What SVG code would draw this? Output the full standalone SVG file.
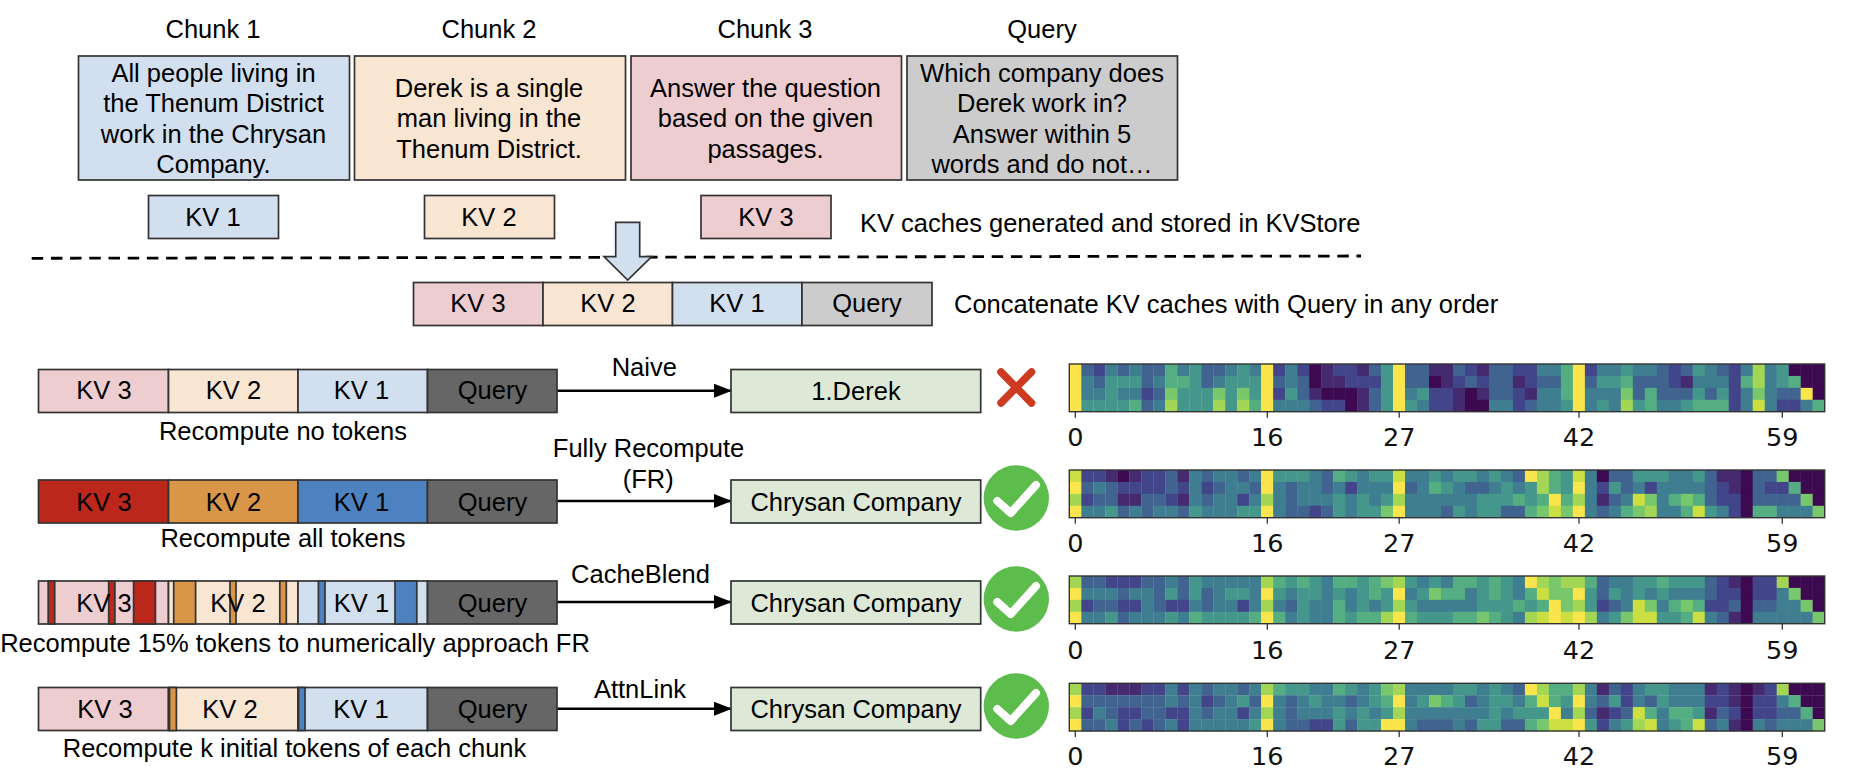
<svg xmlns="http://www.w3.org/2000/svg" width="1874" height="778" viewBox="0 0 1874 778">
<style>
text{font-family:"Liberation Sans",Arial,sans-serif;font-size:25.5px;fill:#000;text-anchor:middle}
.l{text-anchor:start}
.t{font-family:"DejaVu Sans",sans-serif;font-size:25.5px;fill:#111}
.b{stroke:#333;stroke-width:1.7}
.pk{fill:#eecdd0}.pc{fill:#f8e5d2}.bl{fill:#d2dfef}.gy{fill:#ccc}.dg{fill:#666}.gn{fill:#dde9d6}.rd{fill:#bb271a}.or{fill:#d99649}.bu{fill:#4e81bf}
.c{stroke:#000;stroke-width:2.6;fill:none}
.ax{fill:none;stroke:#333;stroke-width:1.4}
.tk{stroke:#333;stroke-width:1.3}
.ok{fill:#5cbd4d}
.ck{fill:none;stroke:#fff;stroke-width:8;stroke-linecap:round;stroke-linejoin:round}
.h rect{width:1.02px;height:1.02px}
.a{fill:#3d0a52}.b0{fill:#452a70}.c0{fill:#42458a}.d{fill:#40648f}.e{fill:#3f7e90}.f{fill:#45978c}.g{fill:#55ad82}.h0{fill:#79c76c}.i{fill:#a3d655}.j{fill:#cbdf42}.k{fill:#fae54c}
</style>
<defs>
<marker id="ah" markerUnits="userSpaceOnUse" markerWidth="18" markerHeight="14" refX="17" refY="7" orient="auto"><path d="M0 0L18 7L0 14z" fill="#000"/></marker>
</defs>
<g id="titles">
<text x="213" y="38">Chunk 1</text><text x="489" y="38">Chunk 2</text><text x="765" y="38">Chunk 3</text><text x="1042" y="38">Query</text>
</g>
<g id="chunk1"><rect class="b bl" x="78.5" y="56" width="271" height="124"/><text x="213.500" y="82">All people living in</text><text x="213.500" y="112">the Thenum District</text><text x="213.500" y="143">work in the Chrysan</text><text x="213.500" y="173">Company.</text></g>
<g id="chunk2"><rect class="b pc" x="354.500" y="56" width="271" height="124"/><text x="489" y="97">Derek is a single</text><text x="489" y="127">man living in the</text><text x="489" y="157.500">Thenum District.</text></g>
<g id="chunk3"><rect class="b pk" x="631" y="56" width="270.500" height="124"/><text x="765.500" y="97">Answer the question</text><text x="765.500" y="127">based on the given</text><text x="765.500" y="157.500">passages.</text></g>
<g id="query"><rect class="b gy" x="907" y="56" width="270.500" height="124"/><text x="1042" y="82">Which company does</text><text x="1042" y="112">Derek work in?</text><text x="1042" y="143">Answer within 5</text><text x="1042" y="173">words and do not…</text></g>
<g id="kv1"><rect class="b bl" x="148.500" y="195.500" width="130" height="43"/><text x="213" y="226">KV 1</text></g>
<g id="kv2"><rect class="b pc" x="424.500" y="195.500" width="130" height="43"/><text x="489" y="226">KV 2</text></g>
<g id="kv3"><rect class="b pk" x="701" y="195.500" width="130" height="43"/><text x="766" y="226">KV 3</text></g>
<text class="l" x="860" y="232">KV caches generated and stored in KVStore</text>
<path d="M31.700 258.300L1361 256" stroke="#000" stroke-width="2.8" stroke-dasharray="11.500 7.700" fill="none"/>
<g id="concat">
<rect class="b pk" x="413.500" y="282.500" width="129.500" height="43"/><rect class="b pc" x="543" y="282.500" width="129.500" height="43"/><rect class="b bl" x="672.500" y="282.500" width="129.500" height="43"/><rect class="b gy" x="802" y="282.500" width="130" height="43"/>
<text x="478" y="312">KV 3</text><text x="608" y="312">KV 2</text><text x="737" y="312">KV 1</text><text x="867" y="312">Query</text>
</g>
<path id="downarrow" class="b bl" d="M615.700 222.300H639.700V256.700H651.700L627.700 280L604 256.700H615.700z"/>
<text class="l" x="954" y="313">Concatenate KV caches with Query in any order</text>
<g id="connectors">
<path class="c" marker-end="url(#ah)" d="M557 390.700H731"/>
<path class="c" marker-end="url(#ah)" d="M557 501H731"/>
<path class="c" marker-end="url(#ah)" d="M557 602H731"/>
<path class="c" marker-end="url(#ah)" d="M557 708.700H731"/>
</g>
<g id="row1">
<rect class="b pk" x="38.500" y="369.500" width="130" height="43"/><rect class="b pc" x="168.500" y="369.500" width="129.500" height="43"/><rect class="b bl" x="298" y="369.500" width="129.500" height="43"/><rect class="b dg" x="427.500" y="369.500" width="129.500" height="43"/>
<text x="104" y="399">KV 3</text><text x="233.500" y="399">KV 2</text><text x="361.500" y="399">KV 1</text><text x="492.500" y="399">Query</text>
<text x="283" y="440">Recompute no tokens</text>
</g>
<g id="row2">
<rect class="b rd" x="38.500" y="480" width="130" height="43"/><rect class="b or" x="168.500" y="480" width="129.500" height="43"/><rect class="b bu" x="298" y="480" width="129.500" height="43"/><rect class="b dg" x="427.500" y="480" width="129.500" height="43"/>
<text x="104" y="511">KV 3</text><text x="233.500" y="511">KV 2</text><text x="361.500" y="511">KV 1</text><text x="492.500" y="511">Query</text>
<text x="283" y="547">Recompute all tokens</text>
</g>
<g id="row3">
<rect class="b pk" x="38.500" y="581" width="130" height="43"/><rect class="b pc" x="168.500" y="581" width="129.500" height="43"/><rect class="b bl" x="298" y="581" width="129.500" height="43"/><rect class="b dg" x="427.500" y="581" width="129.500" height="43"/>
<rect class="b rd" x="48.200" y="581" width="6.500" height="43"/><rect class="b rd" x="108.700" y="581" width="6.200" height="43"/><rect class="b rd" x="133.600" y="581" width="21.800" height="43"/>
<rect class="b or" x="173.700" y="581" width="21.900" height="43"/><rect class="b or" x="230" y="581" width="6" height="43"/><rect class="b or" x="279.800" y="581" width="6.500" height="43"/>
<rect class="b bu" x="318.400" y="581" width="6.600" height="43"/><rect class="b bu" x="395" y="581" width="21.800" height="43"/>
<text x="104" y="611.500">KV 3</text><text x="238" y="611.500">KV 2</text><text x="361.500" y="611.500">KV 1</text><text x="492.500" y="611.500">Query</text>
<text x="295" y="652">Recompute 15% tokens to numerically approach FR</text>
</g>
<g id="row4">
<rect class="b pk" x="38.500" y="687.500" width="130" height="43"/><rect class="b pc" x="168.500" y="687.500" width="129.500" height="43"/><rect class="b bl" x="298" y="687.500" width="129.500" height="43"/><rect class="b dg" x="427.500" y="687.500" width="129.500" height="43"/>
<rect class="b or" x="169.500" y="687.500" width="6.900" height="43"/><rect class="b bu" x="298.500" y="687.500" width="6.500" height="43"/>
<text x="105" y="718">KV 3</text><text x="230" y="718">KV 2</text><text x="361" y="718">KV 1</text><text x="492.500" y="718">Query</text>
<text x="294.500" y="757">Recompute k initial tokens of each chunk</text>
</g>
<g id="labels">
<text x="644.300" y="376">Naive</text><text x="648.500" y="457">Fully Recompute</text><text x="648.300" y="488">(FR)</text><text x="640.500" y="583">CacheBlend</text><text x="640" y="698">AttnLink</text>
</g>
<g id="res1"><rect class="b gn" x="731" y="369.500" width="249.700" height="43"/><text x="856" y="400">1.Derek</text></g>
<g id="res2"><rect class="b gn" x="731" y="480" width="249.700" height="43"/><text x="856" y="511">Chrysan Company</text></g>
<g id="res3"><rect class="b gn" x="731" y="581" width="249.700" height="43"/><text x="856" y="611.500">Chrysan Company</text></g>
<g id="res4"><rect class="b gn" x="731" y="687.500" width="249.700" height="43"/><text x="856" y="718">Chrysan Company</text></g>
<path id="cross" d="M1001 372L1031.500 403M1031.500 372L1001 403" stroke="#cc3b1f" stroke-width="7.500" stroke-linecap="round" fill="none"/>
<g id="ok2"><circle class="ok" cx="1016.300" cy="498" r="32.700"/><path class="ck" d="M997.300 501L1010.700 513L1036 485"/></g>
<g id="ok3"><circle class="ok" cx="1016.300" cy="599" r="32.700"/><path class="ck" d="M997.300 602L1010.700 614L1036 586"/></g>
<g id="ok4"><circle class="ok" cx="1016.300" cy="706" r="32.700"/><path class="ck" d="M997.300 709L1010.700 721L1036 693"/></g>
<g id="heat1"><g class="h" transform="translate(1069.300 364) scale(11.990 11.930)">
<g><rect x="0" class="k"/><rect x="1" class="d"/><rect x="2" class="c0"/><rect x="3" class="e"/><rect x="4" class="d"/><rect x="5" class="e"/><rect x="6" class="d"/><rect x="7" class="d"/><rect x="8" class="g"/><rect x="9" class="e"/><rect x="10" class="f"/><rect x="11" class="d"/><rect x="12" class="d"/><rect x="13" class="e"/><rect x="14" class="f"/><rect x="15" class="e"/><rect x="16" class="k"/><rect x="17" class="c0"/><rect x="18" class="e"/><rect x="19" class="c0"/><rect x="20" class="a"/><rect x="21" class="b0"/><rect x="22" class="c0"/><rect x="23" class="c0"/><rect x="24" class="b0"/><rect x="25" class="d"/><rect x="26" class="f"/><rect x="27" class="k"/><rect x="28" class="d"/><rect x="29" class="d"/><rect x="30" class="b0"/><rect x="31" class="b0"/><rect x="32" class="d"/><rect x="33" class="c0"/><rect x="34" class="b0"/><rect x="35" class="d"/><rect x="36" class="d"/><rect x="37" class="c0"/><rect x="38" class="c0"/><rect x="39" class="e"/><rect x="40" class="e"/><rect x="41" class="g"/><rect x="42" class="k"/><rect x="43" class="c0"/><rect x="44" class="e"/><rect x="45" class="e"/><rect x="46" class="f"/><rect x="47" class="e"/><rect x="48" class="e"/><rect x="49" class="d"/><rect x="50" class="c0"/><rect x="51" class="d"/><rect x="52" class="f"/><rect x="53" class="e"/><rect x="54" class="d"/><rect x="55" class="c0"/><rect x="56" class="e"/><rect x="57" class="i"/><rect x="58" class="e"/><rect x="59" class="f"/><rect x="60" class="a"/><rect x="61" class="a"/><rect x="62" class="a"/></g>
<g transform="translate(0 1)"><rect x="0" class="k"/><rect x="1" class="e"/><rect x="2" class="d"/><rect x="3" class="f"/><rect x="4" class="f"/><rect x="5" class="f"/><rect x="6" class="d"/><rect x="7" class="e"/><rect x="8" class="g"/><rect x="9" class="g"/><rect x="10" class="f"/><rect x="11" class="d"/><rect x="12" class="e"/><rect x="13" class="f"/><rect x="14" class="f"/><rect x="15" class="f"/><rect x="16" class="k"/><rect x="17" class="d"/><rect x="18" class="e"/><rect x="19" class="d"/><rect x="20" class="a"/><rect x="21" class="b0"/><rect x="22" class="b0"/><rect x="23" class="c0"/><rect x="24" class="c0"/><rect x="25" class="c0"/><rect x="26" class="f"/><rect x="27" class="k"/><rect x="28" class="d"/><rect x="29" class="d"/><rect x="30" class="a"/><rect x="31" class="b0"/><rect x="32" class="c0"/><rect x="33" class="d"/><rect x="34" class="c0"/><rect x="35" class="d"/><rect x="36" class="d"/><rect x="37" class="b0"/><rect x="38" class="c0"/><rect x="39" class="d"/><rect x="40" class="d"/><rect x="41" class="g"/><rect x="42" class="k"/><rect x="43" class="d"/><rect x="44" class="f"/><rect x="45" class="f"/><rect x="46" class="g"/><rect x="47" class="d"/><rect x="48" class="d"/><rect x="49" class="d"/><rect x="50" class="c0"/><rect x="51" class="b0"/><rect x="52" class="e"/><rect x="53" class="e"/><rect x="54" class="e"/><rect x="55" class="c0"/><rect x="56" class="g"/><rect x="57" class="i"/><rect x="58" class="e"/><rect x="59" class="f"/><rect x="60" class="g"/><rect x="61" class="a"/><rect x="62" class="a"/></g>
<g transform="translate(0 2)"><rect x="0" class="k"/><rect x="1" class="e"/><rect x="2" class="e"/><rect x="3" class="f"/><rect x="4" class="e"/><rect x="5" class="e"/><rect x="6" class="c0"/><rect x="7" class="d"/><rect x="8" class="h0"/><rect x="9" class="f"/><rect x="10" class="f"/><rect x="11" class="f"/><rect x="12" class="h0"/><rect x="13" class="f"/><rect x="14" class="h0"/><rect x="15" class="f"/><rect x="16" class="k"/><rect x="17" class="c0"/><rect x="18" class="f"/><rect x="19" class="d"/><rect x="20" class="b0"/><rect x="21" class="a"/><rect x="22" class="a"/><rect x="23" class="a"/><rect x="24" class="b0"/><rect x="25" class="d"/><rect x="26" class="f"/><rect x="27" class="k"/><rect x="28" class="e"/><rect x="29" class="f"/><rect x="30" class="c0"/><rect x="31" class="c0"/><rect x="32" class="b0"/><rect x="33" class="a"/><rect x="34" class="b0"/><rect x="35" class="d"/><rect x="36" class="d"/><rect x="37" class="c0"/><rect x="38" class="b0"/><rect x="39" class="e"/><rect x="40" class="e"/><rect x="41" class="g"/><rect x="42" class="k"/><rect x="43" class="e"/><rect x="44" class="e"/><rect x="45" class="e"/><rect x="46" class="h0"/><rect x="47" class="d"/><rect x="48" class="g"/><rect x="49" class="d"/><rect x="50" class="d"/><rect x="51" class="d"/><rect x="52" class="f"/><rect x="53" class="d"/><rect x="54" class="f"/><rect x="55" class="c0"/><rect x="56" class="e"/><rect x="57" class="h0"/><rect x="58" class="e"/><rect x="59" class="d"/><rect x="60" class="d"/><rect x="61" class="k"/><rect x="62" class="a"/></g>
<g transform="translate(0 3)"><rect x="0" class="k"/><rect x="1" class="f"/><rect x="2" class="f"/><rect x="3" class="f"/><rect x="4" class="f"/><rect x="5" class="g"/><rect x="6" class="d"/><rect x="7" class="e"/><rect x="8" class="i"/><rect x="9" class="f"/><rect x="10" class="f"/><rect x="11" class="f"/><rect x="12" class="i"/><rect x="13" class="f"/><rect x="14" class="i"/><rect x="15" class="g"/><rect x="16" class="k"/><rect x="17" class="e"/><rect x="18" class="e"/><rect x="19" class="e"/><rect x="20" class="d"/><rect x="21" class="c0"/><rect x="22" class="c0"/><rect x="23" class="a"/><rect x="24" class="b0"/><rect x="25" class="d"/><rect x="26" class="f"/><rect x="27" class="k"/><rect x="28" class="f"/><rect x="29" class="e"/><rect x="30" class="c0"/><rect x="31" class="c0"/><rect x="32" class="b0"/><rect x="33" class="a"/><rect x="34" class="a"/><rect x="35" class="e"/><rect x="36" class="e"/><rect x="37" class="c0"/><rect x="38" class="d"/><rect x="39" class="e"/><rect x="40" class="e"/><rect x="41" class="f"/><rect x="42" class="k"/><rect x="43" class="e"/><rect x="44" class="f"/><rect x="45" class="e"/><rect x="46" class="i"/><rect x="47" class="f"/><rect x="48" class="g"/><rect x="49" class="e"/><rect x="50" class="e"/><rect x="51" class="f"/><rect x="52" class="g"/><rect x="53" class="g"/><rect x="54" class="g"/><rect x="55" class="c0"/><rect x="56" class="e"/><rect x="57" class="j"/><rect x="58" class="e"/><rect x="59" class="c0"/><rect x="60" class="c0"/><rect x="61" class="e"/><rect x="62" class="g"/></g>
</g><rect class="ax" x="1069.300" y="364" width="755.400" height="47.700"/><path class="tk" d="M1075.300 411.700v6M1267.300 411.700v6M1399.200 411.700v6M1579 411.700v6M1782.300 411.700v6"/><text class="t" x="1075.300" y="446">0</text><text class="t" x="1267.300" y="446">16</text><text class="t" x="1399.200" y="446">27</text><text class="t" x="1579" y="446">42</text><text class="t" x="1782.300" y="446">59</text></g>
<g id="heat2"><g class="h" transform="translate(1069.300 470) scale(11.990 11.930)">
<g><rect x="0" class="j"/><rect x="1" class="c0"/><rect x="2" class="c0"/><rect x="3" class="b0"/><rect x="4" class="a"/><rect x="5" class="b0"/><rect x="6" class="c0"/><rect x="7" class="c0"/><rect x="8" class="d"/><rect x="9" class="b0"/><rect x="10" class="e"/><rect x="11" class="d"/><rect x="12" class="e"/><rect x="13" class="e"/><rect x="14" class="d"/><rect x="15" class="e"/><rect x="16" class="k"/><rect x="17" class="f"/><rect x="18" class="f"/><rect x="19" class="f"/><rect x="20" class="e"/><rect x="21" class="d"/><rect x="22" class="g"/><rect x="23" class="f"/><rect x="24" class="e"/><rect x="25" class="f"/><rect x="26" class="f"/><rect x="27" class="j"/><rect x="28" class="e"/><rect x="29" class="e"/><rect x="30" class="f"/><rect x="31" class="e"/><rect x="32" class="f"/><rect x="33" class="f"/><rect x="34" class="e"/><rect x="35" class="f"/><rect x="36" class="e"/><rect x="37" class="d"/><rect x="38" class="k"/><rect x="39" class="i"/><rect x="40" class="g"/><rect x="41" class="f"/><rect x="42" class="j"/><rect x="43" class="e"/><rect x="44" class="a"/><rect x="45" class="d"/><rect x="46" class="d"/><rect x="47" class="f"/><rect x="48" class="f"/><rect x="49" class="f"/><rect x="50" class="e"/><rect x="51" class="e"/><rect x="52" class="f"/><rect x="53" class="d"/><rect x="54" class="b0"/><rect x="55" class="b0"/><rect x="56" class="a"/><rect x="57" class="d"/><rect x="58" class="d"/><rect x="59" class="h0"/><rect x="60" class="a"/><rect x="61" class="a"/><rect x="62" class="a"/></g>
<g transform="translate(0 1)"><rect x="0" class="k"/><rect x="1" class="d"/><rect x="2" class="e"/><rect x="3" class="d"/><rect x="4" class="c0"/><rect x="5" class="c0"/><rect x="6" class="c0"/><rect x="7" class="c0"/><rect x="8" class="d"/><rect x="9" class="c0"/><rect x="10" class="e"/><rect x="11" class="c0"/><rect x="12" class="d"/><rect x="13" class="e"/><rect x="14" class="e"/><rect x="15" class="d"/><rect x="16" class="k"/><rect x="17" class="e"/><rect x="18" class="d"/><rect x="19" class="e"/><rect x="20" class="e"/><rect x="21" class="d"/><rect x="22" class="e"/><rect x="23" class="c0"/><rect x="24" class="e"/><rect x="25" class="e"/><rect x="26" class="e"/><rect x="27" class="k"/><rect x="28" class="d"/><rect x="29" class="e"/><rect x="30" class="g"/><rect x="31" class="f"/><rect x="32" class="e"/><rect x="33" class="d"/><rect x="34" class="d"/><rect x="35" class="e"/><rect x="36" class="f"/><rect x="37" class="e"/><rect x="38" class="f"/><rect x="39" class="i"/><rect x="40" class="g"/><rect x="41" class="f"/><rect x="42" class="k"/><rect x="43" class="e"/><rect x="44" class="c0"/><rect x="45" class="f"/><rect x="46" class="d"/><rect x="47" class="e"/><rect x="48" class="c0"/><rect x="49" class="e"/><rect x="50" class="e"/><rect x="51" class="e"/><rect x="52" class="e"/><rect x="53" class="d"/><rect x="54" class="c0"/><rect x="55" class="b0"/><rect x="56" class="a"/><rect x="57" class="d"/><rect x="58" class="c0"/><rect x="59" class="c0"/><rect x="60" class="g"/><rect x="61" class="a"/><rect x="62" class="a"/></g>
<g transform="translate(0 2)"><rect x="0" class="i"/><rect x="1" class="c0"/><rect x="2" class="d"/><rect x="3" class="d"/><rect x="4" class="b0"/><rect x="5" class="b0"/><rect x="6" class="d"/><rect x="7" class="d"/><rect x="8" class="c0"/><rect x="9" class="b0"/><rect x="10" class="e"/><rect x="11" class="d"/><rect x="12" class="e"/><rect x="13" class="e"/><rect x="14" class="c0"/><rect x="15" class="e"/><rect x="16" class="i"/><rect x="17" class="e"/><rect x="18" class="d"/><rect x="19" class="e"/><rect x="20" class="e"/><rect x="21" class="e"/><rect x="22" class="f"/><rect x="23" class="e"/><rect x="24" class="f"/><rect x="25" class="e"/><rect x="26" class="f"/><rect x="27" class="i"/><rect x="28" class="e"/><rect x="29" class="e"/><rect x="30" class="e"/><rect x="31" class="e"/><rect x="32" class="e"/><rect x="33" class="e"/><rect x="34" class="f"/><rect x="35" class="f"/><rect x="36" class="f"/><rect x="37" class="g"/><rect x="38" class="f"/><rect x="39" class="g"/><rect x="40" class="k"/><rect x="41" class="g"/><rect x="42" class="i"/><rect x="43" class="e"/><rect x="44" class="b0"/><rect x="45" class="d"/><rect x="46" class="e"/><rect x="47" class="j"/><rect x="48" class="h0"/><rect x="49" class="e"/><rect x="50" class="g"/><rect x="51" class="h0"/><rect x="52" class="g"/><rect x="53" class="d"/><rect x="54" class="c0"/><rect x="55" class="c0"/><rect x="56" class="a"/><rect x="57" class="d"/><rect x="58" class="d"/><rect x="59" class="d"/><rect x="60" class="d"/><rect x="61" class="h0"/><rect x="62" class="a"/></g>
<g transform="translate(0 3)"><rect x="0" class="k"/><rect x="1" class="e"/><rect x="2" class="e"/><rect x="3" class="f"/><rect x="4" class="d"/><rect x="5" class="e"/><rect x="6" class="d"/><rect x="7" class="e"/><rect x="8" class="e"/><rect x="9" class="d"/><rect x="10" class="f"/><rect x="11" class="e"/><rect x="12" class="e"/><rect x="13" class="e"/><rect x="14" class="f"/><rect x="15" class="f"/><rect x="16" class="k"/><rect x="17" class="e"/><rect x="18" class="d"/><rect x="19" class="d"/><rect x="20" class="c0"/><rect x="21" class="d"/><rect x="22" class="f"/><rect x="23" class="e"/><rect x="24" class="f"/><rect x="25" class="f"/><rect x="26" class="h0"/><rect x="27" class="k"/><rect x="28" class="e"/><rect x="29" class="e"/><rect x="30" class="e"/><rect x="31" class="d"/><rect x="32" class="f"/><rect x="33" class="e"/><rect x="34" class="f"/><rect x="35" class="f"/><rect x="36" class="d"/><rect x="37" class="d"/><rect x="38" class="g"/><rect x="39" class="h0"/><rect x="40" class="j"/><rect x="41" class="h0"/><rect x="42" class="k"/><rect x="43" class="e"/><rect x="44" class="d"/><rect x="45" class="e"/><rect x="46" class="g"/><rect x="47" class="h0"/><rect x="48" class="i"/><rect x="49" class="e"/><rect x="50" class="e"/><rect x="51" class="g"/><rect x="52" class="j"/><rect x="53" class="f"/><rect x="54" class="e"/><rect x="55" class="c0"/><rect x="56" class="a"/><rect x="57" class="g"/><rect x="58" class="g"/><rect x="59" class="e"/><rect x="60" class="e"/><rect x="61" class="e"/><rect x="62" class="h0"/></g>
</g><rect class="ax" x="1069.300" y="470" width="755.400" height="47.700"/><path class="tk" d="M1075.300 517.700v6M1267.300 517.700v6M1399.200 517.700v6M1579 517.700v6M1782.300 517.700v6"/><text class="t" x="1075.300" y="552.300">0</text><text class="t" x="1267.300" y="552.300">16</text><text class="t" x="1399.200" y="552.300">27</text><text class="t" x="1579" y="552.300">42</text><text class="t" x="1782.300" y="552.300">59</text></g>
<g id="heat3"><g class="h" transform="translate(1069.300 576) scale(11.990 11.930)">
<g><rect x="0" class="i"/><rect x="1" class="d"/><rect x="2" class="d"/><rect x="3" class="c0"/><rect x="4" class="c0"/><rect x="5" class="c0"/><rect x="6" class="d"/><rect x="7" class="d"/><rect x="8" class="e"/><rect x="9" class="d"/><rect x="10" class="f"/><rect x="11" class="e"/><rect x="12" class="e"/><rect x="13" class="e"/><rect x="14" class="e"/><rect x="15" class="e"/><rect x="16" class="i"/><rect x="17" class="g"/><rect x="18" class="f"/><rect x="19" class="g"/><rect x="20" class="f"/><rect x="21" class="e"/><rect x="22" class="g"/><rect x="23" class="g"/><rect x="24" class="f"/><rect x="25" class="g"/><rect x="26" class="h0"/><rect x="27" class="i"/><rect x="28" class="f"/><rect x="29" class="e"/><rect x="30" class="f"/><rect x="31" class="e"/><rect x="32" class="g"/><rect x="33" class="g"/><rect x="34" class="f"/><rect x="35" class="g"/><rect x="36" class="f"/><rect x="37" class="e"/><rect x="38" class="k"/><rect x="39" class="i"/><rect x="40" class="h0"/><rect x="41" class="i"/><rect x="42" class="i"/><rect x="43" class="g"/><rect x="44" class="d"/><rect x="45" class="e"/><rect x="46" class="e"/><rect x="47" class="f"/><rect x="48" class="f"/><rect x="49" class="g"/><rect x="50" class="f"/><rect x="51" class="f"/><rect x="52" class="f"/><rect x="53" class="d"/><rect x="54" class="c0"/><rect x="55" class="b0"/><rect x="56" class="a"/><rect x="57" class="c0"/><rect x="58" class="c0"/><rect x="59" class="i"/><rect x="60" class="a"/><rect x="61" class="a"/><rect x="62" class="a"/></g>
<g transform="translate(0 1)"><rect x="0" class="k"/><rect x="1" class="e"/><rect x="2" class="e"/><rect x="3" class="e"/><rect x="4" class="d"/><rect x="5" class="e"/><rect x="6" class="e"/><rect x="7" class="d"/><rect x="8" class="f"/><rect x="9" class="d"/><rect x="10" class="f"/><rect x="11" class="d"/><rect x="12" class="e"/><rect x="13" class="f"/><rect x="14" class="f"/><rect x="15" class="e"/><rect x="16" class="k"/><rect x="17" class="f"/><rect x="18" class="e"/><rect x="19" class="f"/><rect x="20" class="f"/><rect x="21" class="e"/><rect x="22" class="f"/><rect x="23" class="e"/><rect x="24" class="f"/><rect x="25" class="g"/><rect x="26" class="f"/><rect x="27" class="k"/><rect x="28" class="e"/><rect x="29" class="f"/><rect x="30" class="h0"/><rect x="31" class="g"/><rect x="32" class="g"/><rect x="33" class="e"/><rect x="34" class="f"/><rect x="35" class="g"/><rect x="36" class="f"/><rect x="37" class="e"/><rect x="38" class="g"/><rect x="39" class="j"/><rect x="40" class="h0"/><rect x="41" class="h0"/><rect x="42" class="k"/><rect x="43" class="f"/><rect x="44" class="d"/><rect x="45" class="f"/><rect x="46" class="e"/><rect x="47" class="f"/><rect x="48" class="e"/><rect x="49" class="f"/><rect x="50" class="e"/><rect x="51" class="e"/><rect x="52" class="e"/><rect x="53" class="d"/><rect x="54" class="c0"/><rect x="55" class="c0"/><rect x="56" class="a"/><rect x="57" class="c0"/><rect x="58" class="c0"/><rect x="59" class="e"/><rect x="60" class="h0"/><rect x="61" class="a"/><rect x="62" class="a"/></g>
<g transform="translate(0 2)"><rect x="0" class="i"/><rect x="1" class="c0"/><rect x="2" class="d"/><rect x="3" class="d"/><rect x="4" class="c0"/><rect x="5" class="c0"/><rect x="6" class="e"/><rect x="7" class="d"/><rect x="8" class="c0"/><rect x="9" class="c0"/><rect x="10" class="e"/><rect x="11" class="d"/><rect x="12" class="e"/><rect x="13" class="e"/><rect x="14" class="c0"/><rect x="15" class="e"/><rect x="16" class="i"/><rect x="17" class="e"/><rect x="18" class="d"/><rect x="19" class="f"/><rect x="20" class="e"/><rect x="21" class="e"/><rect x="22" class="g"/><rect x="23" class="e"/><rect x="24" class="f"/><rect x="25" class="e"/><rect x="26" class="f"/><rect x="27" class="i"/><rect x="28" class="f"/><rect x="29" class="e"/><rect x="30" class="e"/><rect x="31" class="e"/><rect x="32" class="e"/><rect x="33" class="e"/><rect x="34" class="f"/><rect x="35" class="f"/><rect x="36" class="f"/><rect x="37" class="g"/><rect x="38" class="f"/><rect x="39" class="g"/><rect x="40" class="k"/><rect x="41" class="h0"/><rect x="42" class="i"/><rect x="43" class="f"/><rect x="44" class="c0"/><rect x="45" class="d"/><rect x="46" class="e"/><rect x="47" class="j"/><rect x="48" class="h0"/><rect x="49" class="e"/><rect x="50" class="g"/><rect x="51" class="h0"/><rect x="52" class="g"/><rect x="53" class="c0"/><rect x="54" class="c0"/><rect x="55" class="d"/><rect x="56" class="a"/><rect x="57" class="d"/><rect x="58" class="d"/><rect x="59" class="e"/><rect x="60" class="e"/><rect x="61" class="h0"/><rect x="62" class="a"/></g>
<g transform="translate(0 3)"><rect x="0" class="k"/><rect x="1" class="e"/><rect x="2" class="e"/><rect x="3" class="f"/><rect x="4" class="d"/><rect x="5" class="e"/><rect x="6" class="e"/><rect x="7" class="e"/><rect x="8" class="f"/><rect x="9" class="e"/><rect x="10" class="g"/><rect x="11" class="f"/><rect x="12" class="f"/><rect x="13" class="f"/><rect x="14" class="f"/><rect x="15" class="g"/><rect x="16" class="k"/><rect x="17" class="g"/><rect x="18" class="e"/><rect x="19" class="f"/><rect x="20" class="e"/><rect x="21" class="e"/><rect x="22" class="g"/><rect x="23" class="f"/><rect x="24" class="g"/><rect x="25" class="g"/><rect x="26" class="i"/><rect x="27" class="k"/><rect x="28" class="g"/><rect x="29" class="f"/><rect x="30" class="f"/><rect x="31" class="f"/><rect x="32" class="g"/><rect x="33" class="g"/><rect x="34" class="h0"/><rect x="35" class="g"/><rect x="36" class="f"/><rect x="37" class="e"/><rect x="38" class="i"/><rect x="39" class="j"/><rect x="40" class="k"/><rect x="41" class="j"/><rect x="42" class="k"/><rect x="43" class="i"/><rect x="44" class="e"/><rect x="45" class="f"/><rect x="46" class="h0"/><rect x="47" class="j"/><rect x="48" class="j"/><rect x="49" class="f"/><rect x="50" class="f"/><rect x="51" class="g"/><rect x="52" class="j"/><rect x="53" class="e"/><rect x="54" class="d"/><rect x="55" class="b0"/><rect x="56" class="a"/><rect x="57" class="e"/><rect x="58" class="e"/><rect x="59" class="e"/><rect x="60" class="e"/><rect x="61" class="e"/><rect x="62" class="h0"/></g>
</g><rect class="ax" x="1069.300" y="576" width="755.400" height="47.700"/><path class="tk" d="M1075.300 623.700v6M1267.300 623.700v6M1399.200 623.700v6M1579 623.700v6M1782.300 623.700v6"/><text class="t" x="1075.300" y="658.700">0</text><text class="t" x="1267.300" y="658.700">16</text><text class="t" x="1399.200" y="658.700">27</text><text class="t" x="1579" y="658.700">42</text><text class="t" x="1782.300" y="658.700">59</text></g>
<g id="heat4"><g class="h" transform="translate(1069.300 683.300) scale(11.990 11.930)">
<g><rect x="0" class="i"/><rect x="1" class="c0"/><rect x="2" class="c0"/><rect x="3" class="b0"/><rect x="4" class="b0"/><rect x="5" class="b0"/><rect x="6" class="c0"/><rect x="7" class="c0"/><rect x="8" class="e"/><rect x="9" class="c0"/><rect x="10" class="e"/><rect x="11" class="d"/><rect x="12" class="e"/><rect x="13" class="e"/><rect x="14" class="d"/><rect x="15" class="e"/><rect x="16" class="i"/><rect x="17" class="g"/><rect x="18" class="f"/><rect x="19" class="f"/><rect x="20" class="e"/><rect x="21" class="e"/><rect x="22" class="g"/><rect x="23" class="f"/><rect x="24" class="e"/><rect x="25" class="f"/><rect x="26" class="h0"/><rect x="27" class="i"/><rect x="28" class="e"/><rect x="29" class="e"/><rect x="30" class="e"/><rect x="31" class="e"/><rect x="32" class="f"/><rect x="33" class="f"/><rect x="34" class="e"/><rect x="35" class="f"/><rect x="36" class="e"/><rect x="37" class="d"/><rect x="38" class="k"/><rect x="39" class="i"/><rect x="40" class="g"/><rect x="41" class="g"/><rect x="42" class="i"/><rect x="43" class="e"/><rect x="44" class="b0"/><rect x="45" class="d"/><rect x="46" class="c0"/><rect x="47" class="e"/><rect x="48" class="f"/><rect x="49" class="f"/><rect x="50" class="e"/><rect x="51" class="e"/><rect x="52" class="e"/><rect x="53" class="b0"/><rect x="54" class="c0"/><rect x="55" class="b0"/><rect x="56" class="a"/><rect x="57" class="b0"/><rect x="58" class="c0"/><rect x="59" class="i"/><rect x="60" class="a"/><rect x="61" class="a"/><rect x="62" class="a"/></g>
<g transform="translate(0 1)"><rect x="0" class="k"/><rect x="1" class="d"/><rect x="2" class="d"/><rect x="3" class="d"/><rect x="4" class="d"/><rect x="5" class="d"/><rect x="6" class="d"/><rect x="7" class="d"/><rect x="8" class="e"/><rect x="9" class="d"/><rect x="10" class="e"/><rect x="11" class="c0"/><rect x="12" class="d"/><rect x="13" class="e"/><rect x="14" class="f"/><rect x="15" class="d"/><rect x="16" class="k"/><rect x="17" class="e"/><rect x="18" class="d"/><rect x="19" class="e"/><rect x="20" class="f"/><rect x="21" class="e"/><rect x="22" class="e"/><rect x="23" class="d"/><rect x="24" class="e"/><rect x="25" class="f"/><rect x="26" class="g"/><rect x="27" class="k"/><rect x="28" class="e"/><rect x="29" class="f"/><rect x="30" class="h0"/><rect x="31" class="g"/><rect x="32" class="f"/><rect x="33" class="d"/><rect x="34" class="e"/><rect x="35" class="f"/><rect x="36" class="f"/><rect x="37" class="e"/><rect x="38" class="g"/><rect x="39" class="j"/><rect x="40" class="g"/><rect x="41" class="f"/><rect x="42" class="k"/><rect x="43" class="e"/><rect x="44" class="d"/><rect x="45" class="f"/><rect x="46" class="c0"/><rect x="47" class="e"/><rect x="48" class="d"/><rect x="49" class="f"/><rect x="50" class="e"/><rect x="51" class="e"/><rect x="52" class="e"/><rect x="53" class="c0"/><rect x="54" class="c0"/><rect x="55" class="b0"/><rect x="56" class="a"/><rect x="57" class="c0"/><rect x="58" class="c0"/><rect x="59" class="e"/><rect x="60" class="g"/><rect x="61" class="a"/><rect x="62" class="a"/></g>
<g transform="translate(0 2)"><rect x="0" class="i"/><rect x="1" class="c0"/><rect x="2" class="e"/><rect x="3" class="d"/><rect x="4" class="c0"/><rect x="5" class="c0"/><rect x="6" class="d"/><rect x="7" class="d"/><rect x="8" class="c0"/><rect x="9" class="c0"/><rect x="10" class="e"/><rect x="11" class="d"/><rect x="12" class="e"/><rect x="13" class="e"/><rect x="14" class="c0"/><rect x="15" class="e"/><rect x="16" class="i"/><rect x="17" class="e"/><rect x="18" class="d"/><rect x="19" class="e"/><rect x="20" class="e"/><rect x="21" class="e"/><rect x="22" class="f"/><rect x="23" class="e"/><rect x="24" class="f"/><rect x="25" class="e"/><rect x="26" class="f"/><rect x="27" class="i"/><rect x="28" class="e"/><rect x="29" class="e"/><rect x="30" class="e"/><rect x="31" class="e"/><rect x="32" class="e"/><rect x="33" class="e"/><rect x="34" class="e"/><rect x="35" class="f"/><rect x="36" class="e"/><rect x="37" class="f"/><rect x="38" class="f"/><rect x="39" class="f"/><rect x="40" class="k"/><rect x="41" class="e"/><rect x="42" class="i"/><rect x="43" class="d"/><rect x="44" class="b0"/><rect x="45" class="c0"/><rect x="46" class="d"/><rect x="47" class="j"/><rect x="48" class="g"/><rect x="49" class="e"/><rect x="50" class="g"/><rect x="51" class="g"/><rect x="52" class="f"/><rect x="53" class="b0"/><rect x="54" class="d"/><rect x="55" class="c0"/><rect x="56" class="a"/><rect x="57" class="c0"/><rect x="58" class="c0"/><rect x="59" class="d"/><rect x="60" class="d"/><rect x="61" class="g"/><rect x="62" class="a"/></g>
<g transform="translate(0 3)"><rect x="0" class="k"/><rect x="1" class="d"/><rect x="2" class="d"/><rect x="3" class="e"/><rect x="4" class="c0"/><rect x="5" class="d"/><rect x="6" class="c0"/><rect x="7" class="d"/><rect x="8" class="e"/><rect x="9" class="c0"/><rect x="10" class="e"/><rect x="11" class="e"/><rect x="12" class="e"/><rect x="13" class="e"/><rect x="14" class="e"/><rect x="15" class="f"/><rect x="16" class="k"/><rect x="17" class="e"/><rect x="18" class="d"/><rect x="19" class="d"/><rect x="20" class="c0"/><rect x="21" class="c0"/><rect x="22" class="f"/><rect x="23" class="d"/><rect x="24" class="f"/><rect x="25" class="f"/><rect x="26" class="k"/><rect x="27" class="k"/><rect x="28" class="e"/><rect x="29" class="d"/><rect x="30" class="d"/><rect x="31" class="d"/><rect x="32" class="e"/><rect x="33" class="d"/><rect x="34" class="f"/><rect x="35" class="f"/><rect x="36" class="d"/><rect x="37" class="d"/><rect x="38" class="g"/><rect x="39" class="h0"/><rect x="40" class="j"/><rect x="41" class="j"/><rect x="42" class="k"/><rect x="43" class="f"/><rect x="44" class="c0"/><rect x="45" class="e"/><rect x="46" class="f"/><rect x="47" class="i"/><rect x="48" class="j"/><rect x="49" class="e"/><rect x="50" class="f"/><rect x="51" class="g"/><rect x="52" class="j"/><rect x="53" class="d"/><rect x="54" class="e"/><rect x="55" class="b0"/><rect x="56" class="a"/><rect x="57" class="e"/><rect x="58" class="d"/><rect x="59" class="e"/><rect x="60" class="e"/><rect x="61" class="e"/><rect x="62" class="h0"/></g>
</g><rect class="ax" x="1069.300" y="683.300" width="755.400" height="47.700"/><path class="tk" d="M1075.300 731v6M1267.300 731v6M1399.200 731v6M1579 731v6M1782.300 731v6"/><text class="t" x="1075.300" y="765">0</text><text class="t" x="1267.300" y="765">16</text><text class="t" x="1399.200" y="765">27</text><text class="t" x="1579" y="765">42</text><text class="t" x="1782.300" y="765">59</text></g>
</svg>
